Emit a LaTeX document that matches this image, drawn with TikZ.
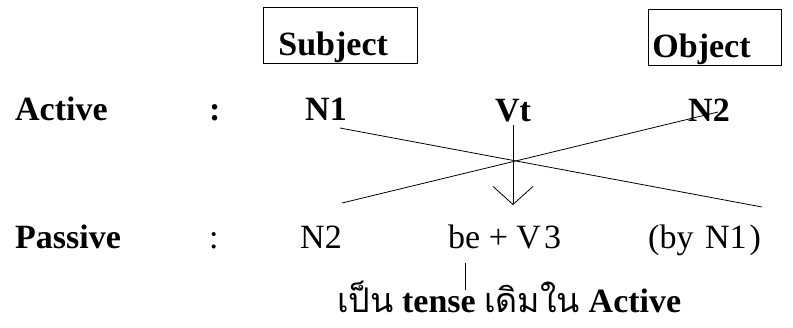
\documentclass[tikz,border=0pt]{standalone}
\usepackage{fontspec}
\setmainfont{Liberation Serif}
\newfontfamily\thaifont[Script=Thai]{Loma}
\usetikzlibrary{arrows.meta}
\tikzset{
  word/.style={anchor=base west, inner sep=0pt},
  box/.style 2 args={draw, line width=0.8pt, anchor=north west, align=left,
    inner xsep=#1, inner ysep=0pt, text width=#2, text height=48pt, text depth=8pt},
  cross/.style={line width=0.8pt}
}
\begin{document}
\begin{tikzpicture}[x=1pt, y=-1pt, font=\fontsize{34}{40}\selectfont]
  \useasboundingbox (0,0) rectangle (793,327);
  \node[box={15pt}{124pt}] (subj) at (263,7) {\textbf{Subject}};
  \node[box={4pt}{125pt}] (obj) at (648,9) {\textbf{Object}};

  \node[word] (act) at (15,120) {\textbf{Active}};
  \node[word] (actc) at (209,120) {\textbf{:}};
  \node[word] (n1) at (305,120) {\textbf{N1}};
  \node[word, anchor=base] (vt) at (513,121) {\textbf{Vt}};
  \node[word] (n2) at (688,121) {\textbf{N2}};

  \node[word] (pas) at (15,248) {\textbf{Passive}};
  \node[word] (pasc) at (209,248) {:};
  \node[word] (pn2) at (300,248) {N2};
  \node[word] (bev3) at (448,248) {be + V\hspace{3pt}3};
  \node[word] (byn1) at (648,248) {(by\ \hspace{3pt}N1\hspace{3pt})};
  \node[word] (note) at (337,312) {{\thaifont เป็น} \textbf{tense} {\thaifont เดิมใน} \textbf{Active}};

  \coordinate (a1) at (340,128);
  \coordinate (a2) at (762,207);
  \coordinate (b1) at (342,203);
  \coordinate (b2) at (718,112);
  \coordinate (tip) at (513,205);
  \draw[cross] (a1) -- (a2);
  \draw[cross] (b1) -- (b2);
  \draw[cross, -{Straight Barb[length=18pt, width=40pt]}] ([yshift=-3pt]vt.south) -- (tip);
  \draw[line width=0.6pt] ([xshift=17pt, yshift=-14pt]bev3.south west) -- ++(0,27);
\end{tikzpicture}
\end{document}
